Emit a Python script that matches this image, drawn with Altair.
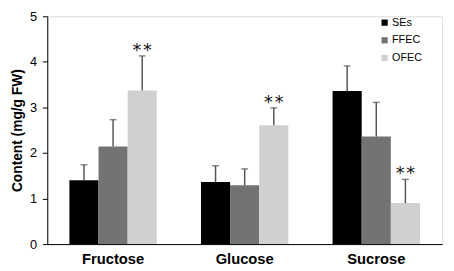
import altair as alt
import pandas as pd

sugars = ["Fructose", "Glucose", "Sucrose"]
groups = ["SEs", "FFEC", "OFEC"]
colors = ["#000000", "#737373", "#d0d0d0"]
means = {
    "SEs":  [1.40, 1.36, 3.36],
    "FFEC": [2.14, 1.29, 2.36],
    "OFEC": [3.37, 2.61, 0.90],
}
upper = {
    "SEs":  [1.74, 1.72, 3.91],
    "FFEC": [2.73, 1.65, 3.11],
    "OFEC": [4.13, 2.99, 1.42],
}
marks = {
    "SEs":  ["", "", ""],
    "FFEC": ["", "", ""],
    "OFEC": ["*\u200a*", "*\u200a*", "*\u200a*"],
}

rows = []
for g in groups:
    for i, s in enumerate(sugars):
        rows.append({"sugar": s, "group": g, "mean": means[g][i],
                     "upper": upper[g][i], "sig": marks[g][i]})
df = pd.DataFrame(rows)

FONT = "Liberation Sans"

xenc = alt.X("sugar:N", sort=sugars,
             scale=alt.Scale(paddingInner=0.336, paddingOuter=0.168),
             axis=alt.Axis(title=None, labelAngle=0, labelFontWeight="bold",
                           labelFontSize=15, labelColor="#000", labelPadding=8,
                           ticks=False, domainColor="#000", labelFont=FONT))
xoff = alt.XOffset("group:N", sort=groups, scale=alt.Scale(paddingInner=0, paddingOuter=0))
yscale = alt.Scale(domain=[0, 5], nice=False)

bars = alt.Chart(df).mark_bar().encode(
    x=xenc, xOffset=xoff,
    y=alt.Y("mean:Q", scale=yscale,
            axis=alt.Axis(title="Content (mg/g FW)", titleFontSize=14,
                          titleFontWeight="bold", titleColor="#000",
                          titleFont=FONT, labelFont=FONT, labelFontSize=13,
                          labelColor="#000", values=[0, 1, 2, 3, 4, 5],
                          grid=False, tickSize=5, tickColor="#000",
                          domainColor="#000", labelPadding=6, titlePadding=5)),
    color=alt.Color("group:N", sort=groups,
                    scale=alt.Scale(domain=groups, range=colors),
                    legend=alt.Legend(title=None, orient="none", legendX=338, legendY=1,
                                      symbolType="square", symbolSize=40,
                                      symbolStrokeWidth=0, labelFont=FONT,
                                      labelFontSize=11, labelColor="#000",
                                      rowPadding=6, labelOffset=2)),
)

err = alt.Chart(df).mark_rule(color="#555555", strokeWidth=1.5).encode(
    x=xenc, xOffset=xoff, y="mean:Q", y2="upper:Q")

cap = alt.Chart(df).mark_tick(color="#555555", thickness=1.5, size=7, orient="horizontal").encode(
    x=xenc, xOffset=xoff, y=alt.Y("upper:Q", scale=yscale))

sig = alt.Chart(df).mark_text(font="DejaVu Sans", fontSize=18, baseline="alphabetic",
                              dy=0, color="#111").encode(
    x=xenc, xOffset=xoff, y=alt.Y("upper:Q", scale=yscale), text="sig:N")

chart = alt.layer(bars, err, cap, sig).properties(
    width=402, height=232,
    autosize=alt.AutoSizeParams(type="none"),
    padding={"left": 40, "top": 6, "right": 4, "bottom": 25},
).configure_view(stroke="#a0a0a0", strokeWidth=1).configure(background="white")

chart.save("out.html", embed_options={"renderer": "svg", "actions": False})
